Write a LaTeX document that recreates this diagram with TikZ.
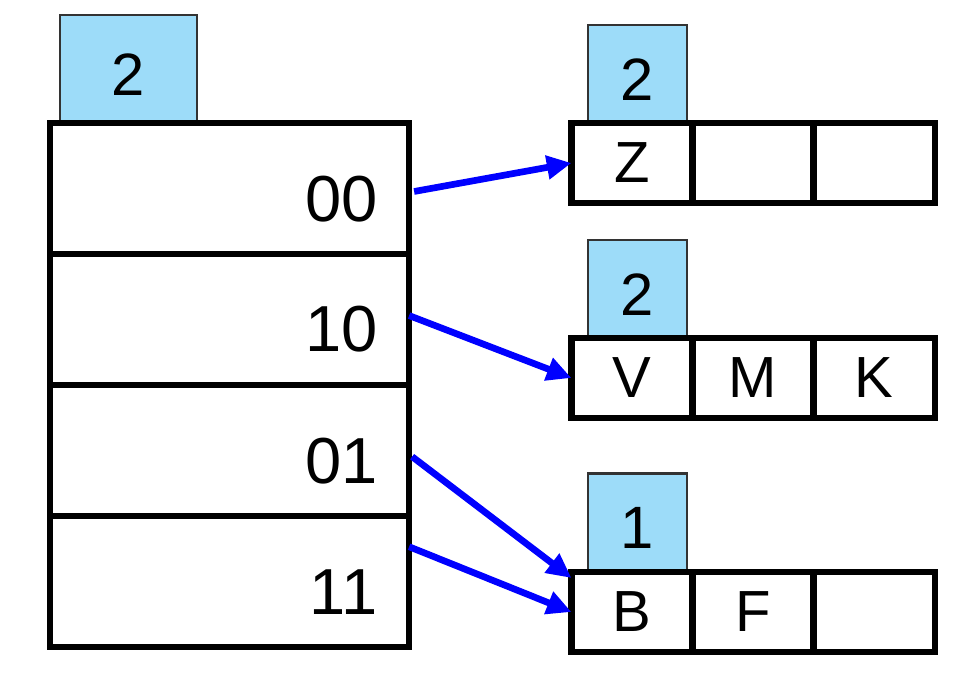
\documentclass[tikz,border=0pt]{standalone}
\usepackage{fontspec}
\setmainfont{Liberation Sans}
\usetikzlibrary{arrows.meta, positioning}
\definecolor{depthblue}{RGB}{157,220,249}

\begin{document}
\begin{tikzpicture}[x=0.01cm, y=-0.01cm, node distance=0pt,
  dirrow/.style={rectangle, draw, line width=1.8pt, outer sep=0pt, minimum width=3.59cm, minimum height=1.31cm},
  dirlab/.style={anchor=east, inner sep=0pt, font=\fontsize{18.5}{22}\selectfont},
  bucketcell/.style={rectangle, draw, line width=1.8pt, outer sep=0pt, minimum width=1.21cm, minimum height=0.8cm, font=\fontsize{16.5}{19}\selectfont},
  depthbox/.style={rectangle, draw=black!80, line width=0.6pt, fill=depthblue, outer sep=0pt, minimum width=0.99cm, minimum height=0.98cm, text height=0.52cm, text depth=0pt, font=\fontsize{17}{20}\selectfont},
  ptr/.style={-{Triangle[length=7pt,width=6.5pt]}, line width=1.9pt, blue}]
\useasboundingbox (0,0) rectangle (974,688);

% local and global depths
\node (gd) [depthbox, minimum width=1.37cm, minimum height=1.08cm] at (128.5,69) {2};
\node (d1) [depthbox] at (637.5,74) {2};
\node (d2) [depthbox] at (637.5,289) {2};
\node (d3) [depthbox] at (637.5,522.5) {1};

% directory
\node (r00) [dirrow] at (229.5,188.5) {};
\node (r10) [dirrow, below=of r00] {};
\node (r01) [dirrow, below=of r10] {};
\node (r11) [dirrow, below=of r01] {};
\node (l00) [dirlab] at ([shift={(-31,11)}]r00.east) {00};
\node (l10) [dirlab] at ([shift={(-31,10)}]r10.east) {10};
\node (l01) [dirlab] at ([shift={(-31,10)}]r01.east) {01};
\node (l11) [dirlab] at ([shift={(-31,10)}]r11.east) {11};

% buckets
\node (b1a) [bucketcell] at (632,163) {Z};
\node (b1b) [bucketcell, right=of b1a] {};
\node (b1c) [bucketcell, right=of b1b] {};

\node (b2a) [bucketcell] at (632,378) {V};
\node (b2b) [bucketcell, right=of b2a] {M};
\node (b2c) [bucketcell, right=of b2b] {K};

\node (b3a) [bucketcell] at (632,612) {B};
\node (b3b) [bucketcell, right=of b3a] {F};
\node (b3c) [bucketcell, right=of b3b] {};

% pointers
\draw[ptr] ([shift={(5,3)}]r00.east) -- (b1a.west);
\draw[ptr] ([shift={(0,-4)}]r10.east) -- (b2a.west);
\draw[ptr] ([shift={(3,6)}]r01.east) -- ([shift={(0,6)}]b3a.north west);
\draw[ptr] ([shift={(0,-35)}]r11.east) -- (b3a.west);
\end{tikzpicture}
\end{document}
